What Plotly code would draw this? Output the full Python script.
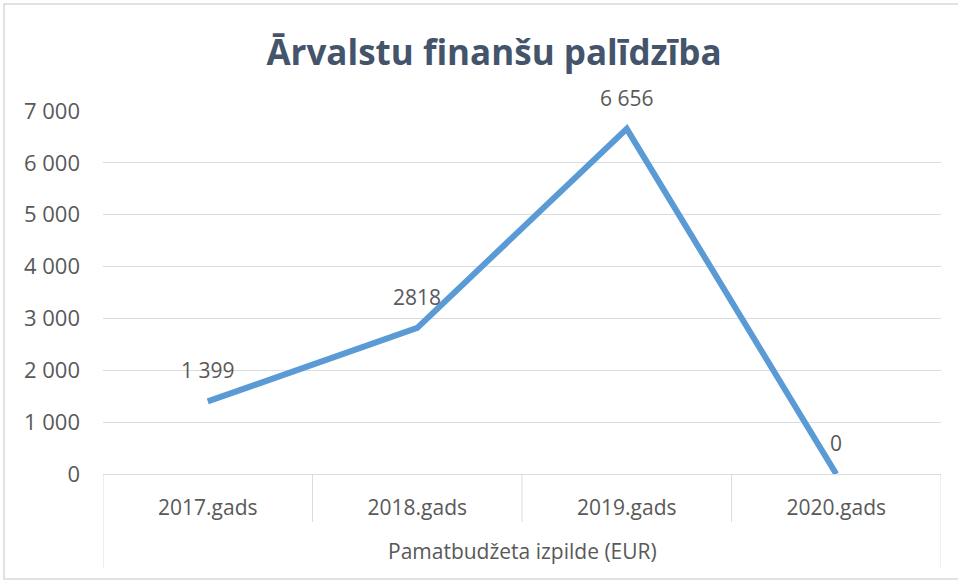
import plotly.graph_objects as go

categories = ["2017.gads", "2018.gads", "2019.gads", "2020.gads"]
values = [1399, 2818, 6656, 0]
value_labels = ["1 399", "2818", "6 656", "0"]
group_label = "Pamatbudžeta izpilde (EUR)"
title_text = "Ārvalstu finanšu palīdzība"
y_ticks = [0, 1000, 2000, 3000, 4000, 5000, 6000, 7000]

FONT = "Open Sans"
TXT = "#595959"
GRID = "#D9DCE2"

fig = go.Figure()
fig.add_trace(go.Scatter(
    x=list(range(len(categories))), y=values, mode="lines",
    line=dict(color="#5B9BD5", width=6), hoverinfo="skip", showlegend=False,
))

# data labels
for i, (v, t) in enumerate(zip(values, value_labels)):
    fig.add_annotation(x=i, y=v, text=t, showarrow=False, yshift=31,
                       font=dict(family=FONT, size=21, color=TXT))

# category dividers
n = len(categories)
for k in range(n + 1):
    xb = k - 0.5
    outer = k == 0 or k == n
    fig.add_shape(type="line", xref="x", yref="paper", x0=xb, x1=xb,
                  y0=0, y1=(-0.259 if outer else -0.132),
                  line=dict(color=GRID, width=1))

# group label
fig.add_annotation(x=0.5, xref="paper", y=-0.212, yref="paper", yanchor="middle",
                   text=group_label, showarrow=False,
                   font=dict(family=FONT, size=21, color=TXT))

# outer chart border
fig.add_shape(type="rect", xref="paper", yref="paper",
              x0=-0.1181, x1=1.03, y0=-0.2893, y1=1.2948,
              line=dict(color="#D9D9D9", width=1.5))

fig.update_layout(
    width=958, height=581,
    margin=dict(l=103, r=17, t=111, b=107),
    paper_bgcolor="white", plot_bgcolor="white",
    separators=", ",
    title=dict(text="<b>" + title_text + "</b>", x=494 / 958, xanchor="center",
               y=1 - 53 / 581, yanchor="middle",
               font=dict(family=FONT, size=35, color="#44546A")),
    xaxis=dict(tickmode="array", tickvals=list(range(n)), ticktext=categories,
               range=[-0.5, n - 0.5], showgrid=False, zeroline=False,
               showline=True, linecolor=GRID, linewidth=1, ticks="",
               ticklabelstandoff=15,
               tickfont=dict(family=FONT, size=21, color=TXT)),
    yaxis=dict(range=[0, 7000], tickvals=y_ticks, tickformat=",d",
               showgrid=True, gridcolor=GRID, gridwidth=1, zeroline=False,
               showline=False, ticks="", ticklabelstandoff=22,
               tickfont=dict(family=FONT, size=22, color=TXT)),
)

fig.write_html("out.html", config={"displayModeBar": False},
               post_script="document.body.style.margin='0px';document.body.style.overflow='hidden';")
